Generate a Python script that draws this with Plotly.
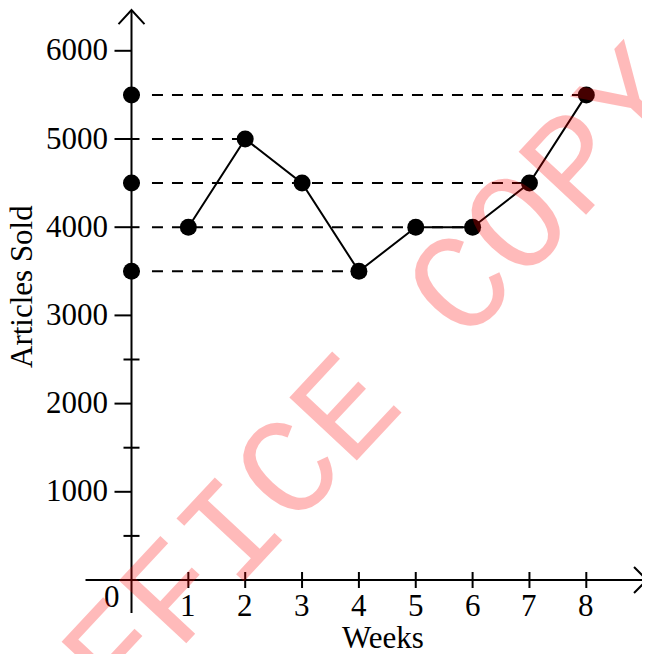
import plotly.graph_objects as go

# ---- data ----
weeks = [1, 2, 3, 4, 5, 6, 7, 8]
articles_sold = [4000, 5000, 4500, 3500, 4000, 4000, 4500, 5500]
guide_levels = [5500, 5000, 4500, 4000, 3500]
guide_end_weeks = [8, 2, 7, 6, 4]
axis_dot_values = [5500, 4500, 3500]
x_tick_values = [1, 2, 3, 4, 5, 6, 7, 8]
x_tick_labels = ["1", "2", "3", "4", "5", "6", "7", "8"]
y_major_values = [1000, 2000, 3000, 4000, 5000, 6000]
y_major_labels = ["1000", "2000", "3000", "4000", "5000", "6000"]
y_minor_values = [500, 1500, 2500, 3500, 4500, 5500]

# ---- layout constants ----
W, H = 650, 654
OFF = 8  # page body margin
X_RANGE = [-2.1724, 9.2612]
Y_RANGE = [-929.7, 6485.3]
X_AXIS_START = -0.809
X_AXIS_TIP = 9.068
Y_AXIS_BOTTOM = -374
Y_AXIS_TIP = 6462
GUIDE_START = 0.36
FONT = "Liberation Serif, Times New Roman, serif"
FS = 31


def px(x):
    return (x - OFF) / W


def py(y):
    return 1 - (y - OFF) / H


fig = go.Figure()

# dashed guide lines
for lvl, wk in zip(guide_levels, guide_end_weeks):
    fig.add_trace(go.Scatter(x=[GUIDE_START, wk], y=[lvl, lvl], mode="lines",
                             line=dict(color="black", width=2, dash="11px,9px"),
                             hoverinfo="skip", showlegend=False))

# data line
fig.add_trace(go.Scatter(x=weeks, y=articles_sold, mode="lines+markers",
                         line=dict(color="black", width=2),
                         marker=dict(color="black", size=17),
                         showlegend=False))

# dots on y axis
fig.add_trace(go.Scatter(x=[0] * len(axis_dot_values), y=axis_dot_values, mode="markers",
                         marker=dict(color="black", size=17), showlegend=False))

shapes = []
line_style = dict(color="black", width=2)
# axes
shapes.append(dict(type="line", xref="x", yref="y", x0=0, x1=0, y0=Y_AXIS_BOTTOM, y1=Y_AXIS_TIP, line=line_style))
shapes.append(dict(type="line", xref="x", yref="y", x0=X_AXIS_START, x1=X_AXIS_TIP, y0=0, y1=0, line=line_style))
# arrow heads
shapes.append(dict(type="path", xref="x", yref="y", xsizemode="pixel", ysizemode="pixel",
                   xanchor=0, yanchor=Y_AXIS_TIP, path="M -13,-14 L 0,0 L 13,-14", line=line_style))
shapes.append(dict(type="path", xref="x", yref="y", xsizemode="pixel", ysizemode="pixel",
                   xanchor=X_AXIS_TIP, yanchor=0, path="M -13,13 L 0,0 L -13,-13", line=line_style))
# x ticks
for v in x_tick_values:
    shapes.append(dict(type="line", xref="x", yref="y", ysizemode="pixel", yanchor=0,
                       x0=v, x1=v, y0=-8, y1=8, line=line_style))
# y major ticks
for v in y_major_values:
    right = 8 if v in guide_levels else 0
    shapes.append(dict(type="line", xref="x", yref="y", xsizemode="pixel", xanchor=0,
                       x0=-17, x1=right, y0=v, y1=v, line=line_style))
# y minor ticks
for v in y_minor_values:
    shapes.append(dict(type="line", xref="x", yref="y", xsizemode="pixel", xanchor=0,
                       x0=-8, x1=8, y0=v, y1=v, line=line_style))

annotations = []
for v, t in zip(x_tick_values, x_tick_labels):
    annotations.append(dict(x=v, y=0, xref="x", yref="y", text=t, showarrow=False,
                            xanchor="center", yanchor="middle", yshift=-25,
                            font=dict(family=FONT, size=FS, color="black")))
for v, t in zip(y_major_values, y_major_labels):
    annotations.append(dict(x=0, y=v, xref="x", yref="y", text=t, showarrow=False,
                            xanchor="right", yanchor="middle", xshift=-22, yshift=1,
                            font=dict(family=FONT, size=FS, color="black")))
annotations.append(dict(x=0, y=0, xref="x", yref="y", text="0", showarrow=False,
                        xanchor="center", yanchor="middle", xshift=-20, yshift=-16,
                        font=dict(family=FONT, size=FS, color="black")))
annotations.append(dict(x=px(383), y=py(637), xref="paper", yref="paper", text="Weeks",
                        showarrow=False, xanchor="center", yanchor="middle",
                        font=dict(family=FONT, size=FS, color="black")))
annotations.append(dict(x=px(21), y=py(287), xref="paper", yref="paper", text="Articles Sold",
                        showarrow=False, xanchor="center", yanchor="middle", textangle=-90,
                        font=dict(family=FONT, size=FS, color="black")))
# watermark
annotations.append(dict(x=px(350), y=py(412), xref="paper", yref="paper", text="OFFICE COPY",
                        showarrow=False, xanchor="center", yanchor="middle", textangle=-47,
                        font=dict(family="Liberation Mono, Courier New, monospace", size=140,
                                  color="rgba(255,0,0,0.27)")))

fig.update_layout(
    width=W, height=H, autosize=False,
    margin=dict(l=0, r=0, t=0, b=0),
    paper_bgcolor="white", plot_bgcolor="white",
    xaxis=dict(range=X_RANGE, visible=False, fixedrange=True),
    yaxis=dict(range=Y_RANGE, visible=False, fixedrange=True),
    shapes=shapes, annotations=annotations, showlegend=False,
)

fig.write_html("out.html")
